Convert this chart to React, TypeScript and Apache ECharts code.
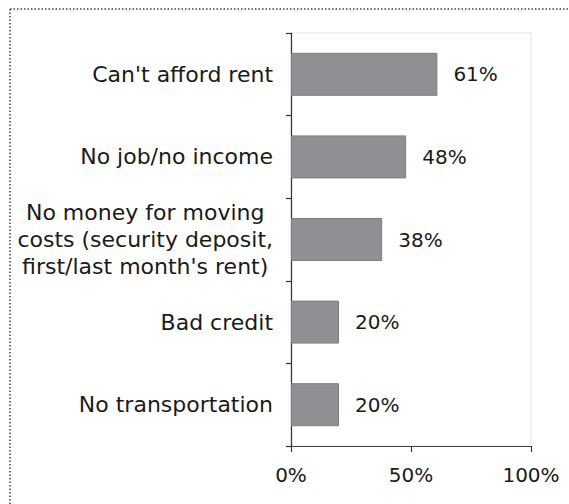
import React, { useEffect, useRef } from "react";
import * as echarts from "echarts";

const categories = [
  "Can't afford rent",
  "No job/no income",
  "No money for moving\ncosts (security deposit,\nfirst/last month's rent)",
  "Bad credit",
  "No transportation",
];
const values = [61, 48, 38, 20, 20];
const xTicks = { min: 0, max: 100, interval: 50 };

const FONT = "DejaVu Sans";

export default function App() {
  const ref = useRef<HTMLDivElement>(null);
  useEffect(() => {
    document.body.style.margin = "0";
    if (!ref.current) return;
    const chart = echarts.init(ref.current, null, { renderer: "svg" });
    chart.setOption({
      animation: false,
      backgroundColor: "#ffffff",
      grid: {
        left: 291,
        right: 38,
        top: 33,
        bottom: 58,
        show: true,
        borderColor: "#e4e4e4",
        borderWidth: 1,
        containLabel: false,
      },
      xAxis: {
        type: "value",
        min: xTicks.min,
        max: xTicks.max,
        interval: xTicks.interval,
        axisLine: { show: true, lineStyle: { color: "#444", width: 1.2 } },
        axisTick: { show: true, length: 6, lineStyle: { color: "#333", width: 1.2 } },
        splitLine: { show: false },
        axisLabel: {
          formatter: "{value}%",
          fontFamily: FONT,
          fontSize: 20,
          color: "#1a1a1a",
          margin: 19,
        },
      },
      yAxis: {
        type: "category",
        data: categories,
        inverse: true,
        axisLine: { show: true, lineStyle: { color: "#333", width: 1.2 } },
        axisTick: { show: true, length: 5, alignWithLabel: false, lineStyle: { color: "#333", width: 1.2 } },
        splitLine: { show: false },
        axisLabel: {
          margin: 18,
          formatter: (v: string) =>
            v
              .split("\n")
              .map((l) => `{c|${l}}`)
              .join("\n"),
          rich: {
            c: {
              align: "center",
              fontFamily: FONT,
              fontSize: 22,
              lineHeight: 27,
              color: "#1a1a1a",
            },
          },
        },
      },
      series: [
        {
          type: "bar",
          data: values,
          barWidth: 43,
          itemStyle: { color: "#8e9094", borderColor: "#7c7e82", borderWidth: 1 },
          label: {
            show: true,
            position: "right",
            distance: 16,
            formatter: "{c}%",
            fontFamily: FONT,
            fontSize: 20,
            color: "#1a1a1a",
          },
        },
      ],
      graphic: [
        {
          type: "line",
          shape: { x1: 10, y1: 9, x2: 569, y2: 9 },
          style: { stroke: "#444", lineWidth: 1.5, lineDash: [1.5, 2] },
        },
        {
          type: "line",
          shape: { x1: 10, y1: 9, x2: 10, y2: 504 },
          style: { stroke: "#444", lineWidth: 1.5, lineDash: [1.5, 2] },
        },
      ],
    });
    return () => chart.dispose();
  }, []);
  return <div ref={ref} style={{ width: 569, height: 504 }} />;
}
